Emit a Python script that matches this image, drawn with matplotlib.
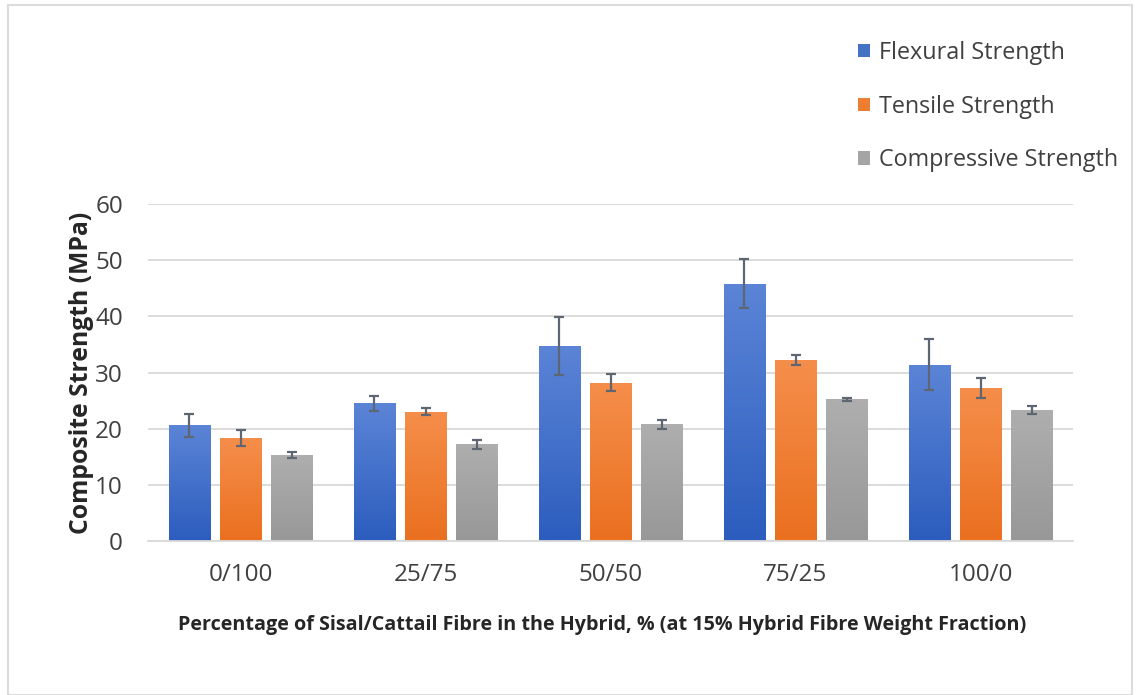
import matplotlib
matplotlib.use("Agg")
import matplotlib.pyplot as plt
import numpy as np
from matplotlib.patches import Rectangle
from matplotlib.colors import LinearSegmentedColormap

categories = ["0/100", "25/75", "50/50", "75/25", "100/0"]
series_names = ["Flexural Strength", "Tensile Strength", "Compressive Strength"]
flexural = [20.6, 24.5, 34.7, 45.8, 31.4]
flexural_err = [2.0, 1.3, 5.2, 4.4, 4.5]
tensile = [18.3, 23.0, 28.2, 32.2, 27.3]
tensile_err = [1.4, 0.6, 1.5, 0.9, 1.8]
compressive = [15.3, 17.2, 20.8, 25.2, 23.4]
compressive_err = [0.6, 0.8, 0.8, 0.3, 0.7]
yticks = [0, 10, 20, 30, 40, 50, 60]

values = [flexural, tensile, compressive]
errors = [flexural_err, tensile_err, compressive_err]
colors = ["#4472C4", "#ED7D31", "#A5A5A5"]
grad = [("#5B84D6", "#2C5DBE"), ("#F58E4A", "#EA7020"), ("#AEAEAE", "#989898")]

FONT = ["Open Sans", "DejaVu Sans"]
plt.rcParams["font.family"] = FONT

fig = plt.figure(figsize=(11.39, 6.95), dpi=100)
W, H = 1139, 695
ax = fig.add_axes([148 / W, 1 - 541 / H, (1073 - 148) / W, (541 - 204) / H])

x = np.arange(len(categories))
width = 0.222
pitch = 0.2757
for i, (vals, errs, c, g) in enumerate(zip(values, errors, colors, grad)):
    pos = x + (i - 1) * pitch
    bars = ax.bar(pos, vals, width, color=c, label=series_names[i], zorder=2)
    cmap = LinearSegmentedColormap.from_list("g%d" % i, [g[1], g[0]])
    for b in bars:
        bx, by = b.get_x(), b.get_y()
        bw, bh = b.get_width(), b.get_height()
        img = ax.imshow(np.linspace(0, 1, 64).reshape(-1, 1), cmap=cmap, origin="lower",
                        extent=[bx, bx + bw, by, by + bh], aspect="auto", zorder=2.5)
        img.set_clip_path(b)
    ax.errorbar(pos, vals, yerr=errs, fmt="none", ecolor="#5E6573", elinewidth=1.6,
                capsize=3.8, capthick=1.6, zorder=3)

ax.set_xlim(-0.5, len(categories) - 0.5)
ax.set_ylim(0, 60)
ax.set_yticks(yticks)
ax.set_xticks(x)
ax.set_xticklabels(categories)
ax.yaxis.grid(True, color="#D9D9D9", linewidth=1.3, zorder=0)
ax.set_axisbelow(True)
for s in ["top", "right", "left"]:
    ax.spines[s].set_visible(False)
ax.spines["bottom"].set_color("#D9D9D9")
ax.spines["bottom"].set_linewidth(1.3)
ax.tick_params(axis="both", length=0, labelsize=17.5, labelcolor="#404040")
ax.tick_params(axis="y", pad=18)
ax.tick_params(axis="x", pad=16)

ax.set_ylabel("Composite Strength (MPa)", fontsize=17.8, fontweight="bold", color="#262626")
ax.yaxis.set_label_coords((94 - 148) / (1073 - 148), 0.5)
ax.set_xlabel("Percentage of Sisal/Cattail Fibre in the Hybrid, % (at 15% Hybrid Fibre Weight Fraction)",
              fontsize=14.2, fontweight="bold", color="#262626")
ax.xaxis.set_label_coords((602 - 148) / (1073 - 148), (541 - 615) / (541 - 204))

handles, labels = ax.get_legend_handles_labels()
leg = fig.legend(handles, labels, loc="upper left", bbox_to_anchor=(858 / W, 1 - 41 / H),
                 frameon=False, fontsize=16.8, handlelength=0.5, handleheight=0.5,
                 handletextpad=0.4, labelspacing=1.27, borderpad=0, borderaxespad=0,
                 labelcolor="#404040")

fig.patches.append(Rectangle((8 / W, 0), (1132 - 8) / W, 1 - 5 / H, transform=fig.transFigure,
                             fill=False, edgecolor="#DCDCDC", linewidth=1.5))

fig.savefig("out.png", dpi=100)
